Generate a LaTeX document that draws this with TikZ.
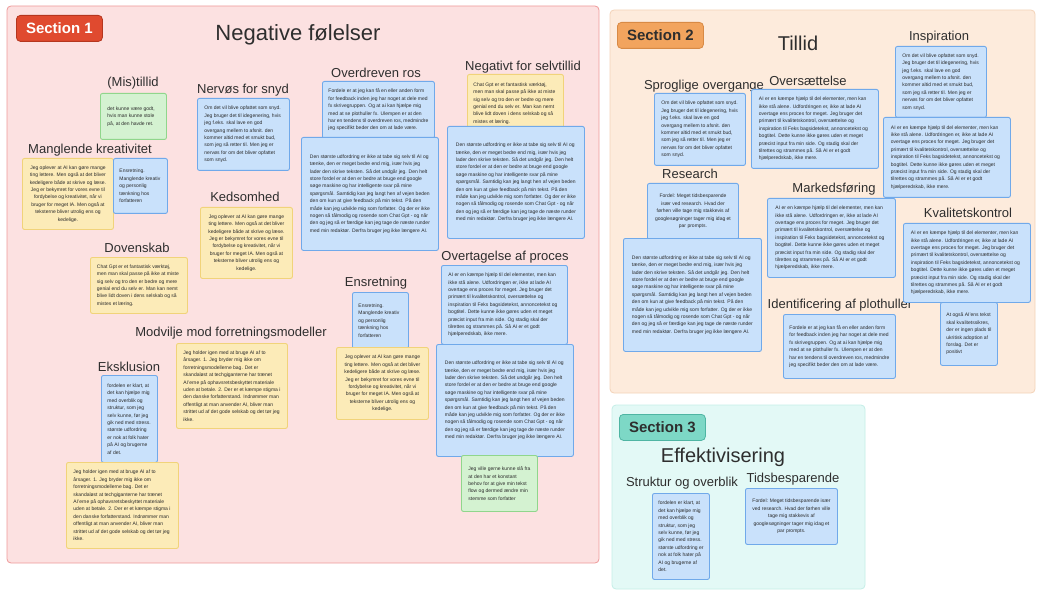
\documentclass[tikz,border=0pt]{standalone}
\usepackage{fontspec}
\setmainfont{Liberation Sans}
\hyphenpenalty=10000
\exhyphenpenalty=10000
\definecolor{secAfill}{HTML}{FCE1E1}
\definecolor{secAline}{HTML}{EE9A9A}
\definecolor{secAlab}{HTML}{E04A2F}
\definecolor{secAlabline}{HTML}{B5361F}
\definecolor{secBfill}{HTML}{FDEBDC}
\definecolor{secBline}{HTML}{F3D3B8}
\definecolor{secBlab}{HTML}{F2A45E}
\definecolor{secBlabline}{HTML}{D88A45}
\definecolor{secCfill}{HTML}{E3F9F6}
\definecolor{secCline}{HTML}{C4EEE7}
\definecolor{secClab}{HTML}{7DD8C6}
\definecolor{secClabline}{HTML}{4FB5A3}
\definecolor{bluefill}{HTML}{C9E1FB}
\definecolor{blueline}{HTML}{70A9EA}
\definecolor{yelfill}{HTML}{FCEBB8}
\definecolor{yelline}{HTML}{F1D37A}
\definecolor{grnfill}{HTML}{D4F2D1}
\definecolor{grnline}{HTML}{90D68C}
\definecolor{headtext}{HTML}{2E2E2E}
\definecolor{notetext}{HTML}{2A2A2A}
\newcommand\ntxtA{Om det vil blive opfattet som snyd. Jeg bruger det til idegenering, hvis jeg f.eks. skal lave en god overgang mellem to afsnit. den kommer altid med et smukt bud, som jeg så retter til. Men jeg er nervøs for om det bliver opfattet som snyd.}
\newcommand\ntxtB{Den største udfordring er ikke at tabe sig selv til AI og tænke, den er meget bedre end mig, især hvis jeg lader den skrive teksten. Så det undgår jeg. Den helt store fordel er at den er bedre at bruge end google søge maskine og har intelligente svar på mine spørgsmål. Samtidig kan jeg langt hen af vejen beden den om kun at give feedback på min tekst. På den måde kan jeg udvikle mig som forfatter. Og der er ikke nogen så tålmodig og rosende som Chat Gpt - og når den og jeg så er færdige kan jeg tage de næste runder med min redaktør. Derfra bruger jeg ikke længere AI.}
\newcommand\ntxtC{Jeg oplever at AI kan gøre mange ting lettere. Men også at det bliver kedeligere både at skrive og læse. Jeg er bekymret for vores evne til fordybelse og kreativitet, når vi bruger for meget IA. Men også at teksterne bliver utrolig ens og kedelige.}
\newcommand\ntxtD{Chat Gpt er et fantastisk værktøj, men man skal passe på ikke at miste sig selv og tro den er bedre og mere genial end du selv er. Man kan nemt blive lidt doven i dens selskab og så mistes et læring.}
\newcommand\ntxtE{Fordele er at jeg kan få en eller anden form for feedback inden jeg har noget at dele med fx skrivegruppen. Og at ai kan hjælpe mig med at se plothuller fx. Ulempen er at den har en tendens til overdreven ros, medmindre jeg specifikt beder den om at lade være.}
\newcommand\ntxtF{AI er en kæmpe hjælp til del elementer, men kan ikke stå alene. Udfordringen er, ikke at lade AI overtage ens proces for meget. Jeg bruger det primært til kvalitetskontrol, oversættelse og inspiration til Feks bagsidetekst, annoncetekst og bogtitel. Dette kunne ikke gøres uden et meget præcist input fra min side. Og stadig skal der tilrettes og strammes på. Så AI er et godt hjælperedskab, ikke mere.}
\newcommand\ntxtG{Jeg holder igen med at bruge AI af to årsager. 1. Jeg bryder mig ikke om forretningsmodellerne bag. Det er skandaløst at techgiganterne har trænet AI'erne på ophavsretsbeskyttet materiale uden at betale. 2. Der er et kæmpe stigma i den danske forfatterstand. Indrømmer man offentligt at man anvender AI, bliver man strittet ud af det gode selskab og det tør jeg ikke.}
\newcommand\ntxtH{fordelen er klart, at det kan hjælpe mig med overblik og struktur, som jeg selv kunne, før jeg gik ned med stress. største udfordring er nok at folk hater på AI og brugerne af det.}
\newcommand\ntxtI{Ensretning. Manglende kreativ og personlig tænkning hos forfatteren}
\newcommand\ntxtL{Fordel: Meget tidsbesparende især ved research. Hvad der førhen ville tage mig stakkevis af googlesøgninger tager mig idag et par prompts.}
\begin{document}
\begin{tikzpicture}[x=1pt,y=-1pt,
  sectbox/.style={rounded corners=4pt, line width=0.8pt},
  seclabel/.style={rounded corners=4pt, line width=0.8pt, anchor=north west,
    minimum width=86pt, minimum height=26pt, inner sep=0pt,
    font=\fontsize{15}{17}\selectfont\bfseries},
  title/.style={font=\fontsize{22}{24}\selectfont, text=headtext, inner sep=0pt},
  head/.style={font=\fontsize{13}{15}\selectfont, text=headtext, inner sep=0pt},
  note/.style={rounded corners=2pt, line width=0.9pt, anchor=north west,
    inner xsep=0pt, inner ysep=2pt, text=notetext,
    font=\fontsize{5}{7.4}\selectfont, align=flush left},
  bluenote/.style={note, draw=blueline, fill=bluefill},
  yelnote/.style={note, draw=yelline, fill=yelfill},
  grnnote/.style={note, draw=grnline, fill=grnfill},
  ctr/.style={align=flush center}
]
\useasboundingbox (0,0) rectangle (1037,591);
% sections
\draw[sectbox, draw=secAline, fill=secAfill] (7,6) rectangle (599,563);
\draw[sectbox, draw=secBline, fill=secBfill] (610,10) rectangle (1035,393);
\draw[sectbox, draw=secCline, fill=secCfill] (612,405) rectangle (865,589);
\node[seclabel, draw=secAlabline, fill=secAlab, text=white] (s1) at (16,15) {Section 1};
\node[seclabel, draw=secBlabline, fill=secBlab, text=headtext] (s2) at (617,22) {Section 2};
\node[seclabel, draw=secClabline, fill=secClab, text=headtext] (s3) at (619,414) {Section 3};
\node[title] (t1) at (298,35) {Negative følelser};
\node[title, font=\fontsize{20}{22}\selectfont] (t2) at (798,43) {Tillid};
\node[title, font=\fontsize{20}{22}\selectfont] (t3) at (723,457) {Effektivisering};
% Section 1 headings
\node[head] (h1) at (133,83) {(Mis)tillid};
\node[head] (h2) at (243,90) {Nervøs for snyd};
\node[head] (h3) at (376,73) {Overdreven ros};
\node[head] (h4) at (523,67) {Negativt for selvtillid};
\node[head] (h5) at (90,150) {Manglende kreativitet};
\node[head] (h6) at (245,197) {Kedsomhed};
\node[head] (h7) at (137,248) {Dovenskab};
\node[head] (h8) at (231,333) {Modvilje mod forretningsmodeller};
\node[head] (h9) at (129,367) {Eksklusion};
\node[head] (h10) at (376,283) {Ensretning};
\node[head] (h11) at (505,257) {Overtagelse af proces};
% Section 1 notes
\node[grnnote, minimum width=66pt, minimum height=46pt, text width=52pt] (n1) at (100,93) {det kunne være godt, hvis man kunne stole på, at den havde ret.};
\node[bluenote, minimum width=92pt, minimum height=72pt, text width=78pt] (n2) at (197,98) {\ntxtA};
\node[bluenote, minimum width=112pt, minimum height=57pt, text width=100pt] (n3) at (322,81) {\ntxtE};
\node[bluenote, minimum width=137pt, minimum height=113pt, text width=120pt] (n4) at (301,137) {\ntxtB};
\node[yelnote, minimum width=96pt, minimum height=58pt, text width=84pt] (n5) at (467,74) {\ntxtD};
\node[bluenote, minimum width=137pt, minimum height=112pt, text width=120pt] (n6) at (447,126) {\ntxtB};
\node[yelnote, ctr, minimum width=91pt, minimum height=71pt, text width=80pt] (n7) at (22,158) {\ntxtC};
\node[bluenote, minimum width=54pt, minimum height=55pt, text width=42pt] (n8) at (113,158) {\ntxtI};
\node[yelnote, ctr, minimum width=92pt, minimum height=71pt, text width=80pt] (n9) at (200,207) {\ntxtC};
\node[yelnote, minimum width=97pt, minimum height=56pt, text width=84pt] (n10) at (90,257) {\ntxtD};
\node[yelnote, minimum width=111pt, minimum height=85pt, text width=97pt] (n11) at (176,343) {\ntxtG};
\node[bluenote, minimum width=56pt, minimum height=87pt, text width=44pt] (n12) at (101,375) {\ntxtH};
\node[yelnote, minimum width=112pt, minimum height=86pt, text width=98pt] (n13) at (66,462) {\ntxtG};
\node[bluenote, minimum width=56pt, minimum height=56pt, text width=44pt] (n14) at (352,292) {\ntxtI};
\node[yelnote, ctr, minimum width=92pt, minimum height=72pt, text width=80pt] (n15) at (336,347) {\ntxtC};
\node[bluenote, minimum width=126pt, minimum height=79pt, text width=112pt] (n16) at (441,265) {\ntxtF};
\node[bluenote, minimum width=137pt, minimum height=112pt, text width=120pt] (n17) at (436,344) {\ntxtB};
\node[grnnote, minimum width=76pt, minimum height=56pt, text width=62pt] (n18) at (461,455) {Jeg ville gerne kunne slå fra at den har et konstant behov for at give min tekst flow og dermed ændre min stemme som forfatter};
% Section 2 headings
\node[head] (g1) at (704,86) {Sproglige overgange};
\node[head] (g2) at (808,81) {Oversættelse};
\node[head] (g3) at (939,37) {Inspiration};
\node[head] (g4) at (690,174) {Research};
\node[head] (g5) at (834,189) {Markedsføring};
\node[head] (g6) at (968,213) {Kvalitetskontrol};
\node[head] (g7) at (840,305) {Identificering af plothuller};
% Section 2 notes
\node[bluenote, minimum width=91pt, minimum height=72pt, text width=77pt] (m1) at (654,93) {\ntxtA};
\node[bluenote, minimum width=127pt, minimum height=79pt, text width=112pt] (m2) at (751,89) {\ntxtF};
\node[bluenote, minimum width=91pt, minimum height=71pt, text width=77pt] (m3) at (895,46) {\ntxtA};
\node[bluenote, minimum width=127pt, minimum height=80pt, text width=112pt] (m4) at (883,117) {\ntxtF};
\node[bluenote, ctr, minimum width=91pt, minimum height=56pt, text width=77pt] (m5) at (647,183) {\ntxtL};
\node[bluenote, minimum width=138pt, minimum height=113pt, text width=121pt] (m6) at (623,238) {\ntxtB};
\node[bluenote, minimum width=128pt, minimum height=79pt, text width=112pt] (m7) at (767,198) {\ntxtF};
\node[bluenote, minimum width=127pt, minimum height=79pt, text width=112pt] (m8) at (903,223) {\ntxtF};
\node[bluenote, minimum width=57pt, minimum height=63pt, text width=45pt] (m9) at (940,302) {At også AI'ens tekst skal kvalitetssikres, der er ingen plads til ukritisk adoption af forslag. Det er positivt};
\node[bluenote, minimum width=112pt, minimum height=64pt, text width=100pt] (m10) at (783,314) {\ntxtE};
% Section 3
\node[head] (k0) at (682,483) {Struktur og overblik};
\node[head] (k00) at (793,479) {Tidsbesparende};
\node[bluenote, minimum width=57pt, minimum height=86pt, text width=45pt] (k1) at (652,493) {\ntxtH};
\node[bluenote, ctr, minimum width=92pt, minimum height=56pt, text width=78pt] (k2) at (745,488) {\ntxtL};
\end{tikzpicture}
\end{document}
